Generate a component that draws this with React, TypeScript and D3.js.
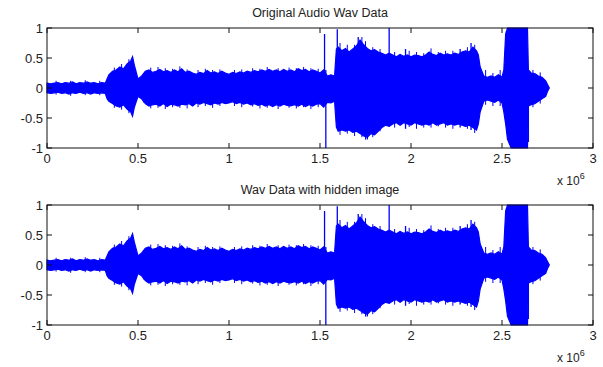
import * as d3 from "d3";

// envelope of the waveform, x in units of 1e6 samples
const envX = [
  0, 0.02, 0.04, 0.06, 0.08, 0.1, 0.12, 0.14, 0.16, 0.18, 0.2, 0.22, 0.24, 0.26, 0.28, 0.3, 0.32,
  0.33, 0.34, 0.36, 0.38, 0.4, 0.42, 0.44, 0.46, 0.47, 0.48, 0.5, 0.52, 0.54, 0.56, 0.58, 0.6,
  0.62, 0.64, 0.66, 0.68, 0.7, 0.72, 0.74, 0.76, 0.78, 0.8, 0.82, 0.84, 0.86, 0.88, 0.9, 0.92,
  0.94, 0.96, 0.98, 1.0, 1.02, 1.04, 1.06, 1.08, 1.1, 1.12, 1.14, 1.16, 1.18, 1.2, 1.22, 1.24,
  1.26, 1.28, 1.3, 1.32, 1.34, 1.36, 1.38, 1.4, 1.42, 1.44, 1.46, 1.48, 1.5, 1.52, 1.54, 1.56,
  1.58, 1.59, 1.6, 1.62, 1.64, 1.66, 1.68, 1.7, 1.72, 1.74, 1.76, 1.78, 1.8, 1.82, 1.84, 1.86,
  1.88, 1.9, 1.92, 1.94, 1.96, 1.98, 2.0, 2.02, 2.04, 2.06, 2.08, 2.1, 2.12, 2.14, 2.16, 2.18,
  2.2, 2.22, 2.24, 2.26, 2.28, 2.3, 2.32, 2.34, 2.36, 2.37, 2.38, 2.4, 2.42, 2.44, 2.46, 2.48,
  2.5, 2.51, 2.52, 2.53, 2.55, 2.6, 2.64, 2.645, 2.66, 2.68, 2.7, 2.72, 2.74, 2.75, 2.76,
];
const envHi = [
  0.08, 0.07, 0.08, 0.09, 0.07, 0.09, 0.08, 0.1, 0.07, 0.09, 0.08, 0.1, 0.08, 0.09, 0.07, 0.09, 0.08,
  0.15, 0.22, 0.28, 0.3, 0.35, 0.32, 0.4, 0.45, 0.52, 0.38, 0.15, 0.2, 0.28, 0.3, 0.26, 0.28,
  0.31, 0.27, 0.29, 0.26, 0.3, 0.27, 0.32, 0.26, 0.28, 0.25, 0.23, 0.26, 0.24, 0.29, 0.25, 0.27,
  0.24, 0.28, 0.25, 0.23, 0.26, 0.24, 0.27, 0.25, 0.28, 0.26, 0.29, 0.27, 0.3, 0.28, 0.31, 0.28,
  0.3, 0.27, 0.31, 0.28, 0.3, 0.27, 0.32, 0.29, 0.31, 0.27, 0.3, 0.28, 0.25, 0.3, 0.2, 0.22,
  0.2, 0.65, 0.68, 0.62, 0.66, 0.6, 0.65, 0.7, 0.8, 0.72, 0.66, 0.62, 0.64, 0.6, 0.58, 0.55,
  0.58, 0.55, 0.52, 0.56, 0.53, 0.55, 0.52, 0.55, 0.54, 0.52, 0.55, 0.6, 0.56, 0.54, 0.58, 0.55,
  0.57, 0.55, 0.58, 0.56, 0.6, 0.62, 0.6, 0.68, 0.62, 0.55, 0.35, 0.2, 0.18, 0.2, 0.18, 0.22,
  0.18, 0.3, 0.9, 1.0, 1.0, 1.0, 1.0, 0.3, 0.25, 0.24, 0.2, 0.18, 0.12, 0.06, 0,
];
const envLo = [
  -0.08, -0.09, -0.08, -0.07, -0.09, -0.08, -0.1, -0.08, -0.09, -0.07, -0.09, -0.08, -0.1, -0.08, -0.09, -0.08, -0.09,
  -0.18, -0.22, -0.26, -0.3, -0.32, -0.28, -0.35, -0.4, -0.47, -0.32, -0.14, -0.18, -0.26, -0.3, -0.28, -0.27,
  -0.3, -0.26, -0.31, -0.27, -0.28, -0.3, -0.27, -0.28, -0.26, -0.3, -0.25, -0.27, -0.24, -0.26, -0.28, -0.25,
  -0.27, -0.24, -0.26, -0.25, -0.23, -0.26, -0.24, -0.27, -0.25, -0.28, -0.26, -0.29, -0.27, -0.3, -0.28, -0.31,
  -0.28, -0.3, -0.27, -0.29, -0.3, -0.28, -0.3, -0.27, -0.31, -0.28, -0.3, -0.27, -0.26, -0.32, -0.24, -0.25,
  -0.22, -0.65, -0.72, -0.7, -0.72, -0.7, -0.74, -0.72, -0.76, -0.8, -0.82, -0.76, -0.78, -0.72, -0.66, -0.62,
  -0.64, -0.6, -0.58, -0.62, -0.58, -0.6, -0.62, -0.58, -0.6, -0.62, -0.6, -0.62, -0.58, -0.62, -0.6, -0.58,
  -0.62, -0.6, -0.62, -0.6, -0.62, -0.64, -0.62, -0.66, -0.7, -0.6, -0.4, -0.22, -0.2, -0.22, -0.24, -0.2,
  -0.25, -0.4, -0.6, -0.85, -1.0, -1.0, -1.0, -0.3, -0.28, -0.26, -0.22, -0.18, -0.14, -0.06, 0,
];

// short peaks sticking out of the envelope
const grassX = [
  0.05, 0.13, 0.21, 0.29, 0.37, 0.41, 0.45, 0.53, 0.57, 0.61, 0.65, 0.69, 0.73, 0.77, 0.83, 0.87,
  0.91, 0.95, 1.03, 1.07, 1.13, 1.17, 1.21, 1.27, 1.33, 1.37, 1.41, 1.45, 1.49, 1.61, 1.65, 1.69,
  1.73, 1.75, 1.79, 1.83, 1.91, 1.99, 2.03, 2.07, 2.11, 2.15, 2.19, 2.23, 2.31, 2.35, 2.41, 2.45,
  2.49, 2.67, 2.71,
];
const grassHi = [
  0.12, 0.12, 0.13, 0.12, 0.34, 0.4, 0.48, 0.25, 0.34, 0.35, 0.33, 0.32, 0.36, 0.31, 0.3, 0.32,
  0.3, 0.31, 0.3, 0.31, 0.33, 0.32, 0.35, 0.33, 0.34, 0.33, 0.35, 0.33, 0.32, 0.75, 0.72, 0.72,
  0.85, 0.78, 0.68, 0.65, 0.6, 0.62, 0.6, 0.58, 0.66, 0.6, 0.62, 0.62, 0.68, 0.72, 0.3, 0.25,
  0.3, 0.3, 0.26,
];
const grassLo = [
  -0.11, -0.13, -0.12, -0.12, -0.33, -0.36, -0.42, -0.24, -0.34, -0.33, -0.35, -0.32, -0.33, -0.34, -0.32, -0.3,
  -0.33, -0.3, -0.3, -0.32, -0.31, -0.34, -0.33, -0.35, -0.33, -0.34, -0.32, -0.35, -0.32, -0.78, -0.76, -0.8,
  -0.82, -0.86, -0.82, -0.72, -0.66, -0.65, -0.68, -0.66, -0.66, -0.64, -0.66, -0.68, -0.68, -0.75, -0.28, -0.3,
  -0.3, -0.32, -0.26,
];

// thin isolated spikes: position, top, bottom
const spikeX = [1.525, 1.532, 1.595, 1.71, 1.76, 1.88, 1.97, 2.27, 2.33, 2.525, 2.645];
const spikeTop = [0.9, 0.3, 0.98, 0.85, 0.5, 1.0, 0.65, 0.65, 0.75, 0.95, 0.2];
const spikeBottom = [-0.3, -1.0, -0.6, -0.7, -0.86, -0.2, -0.68, -0.66, -0.7, -0.5, -0.9];

const xTicks = [0, 0.5, 1, 1.5, 2, 2.5, 3];
const yTicks = [-1, -0.5, 0, 0.5, 1];
const titles = ["Original Audio Wav Data", "Wav Data with hidden image"];

const left = 47;
const right = 593;
const plotH = 120;
const panelTops = [28, 205];
const font = "'Liberation Sans', Arial, sans-serif";

function Panel({ top, title }: { top: number; title: string }) {
  const x = d3.scaleLinear().domain([0, 3e6]).range([left, right]);
  const y = d3.scaleLinear().domain([-1, 1]).range([top + plotH, top]);

  const env = envX.map((v, i) => ({ x: v * 1e6, hi: envHi[i], lo: envLo[i] }));
  const area = d3
    .area<{ x: number; hi: number; lo: number }>()
    .x((d) => x(d.x))
    .y0((d) => y(d.lo))
    .y1((d) => y(d.hi));

  const tl = 5;
  return (
    <g>
      <text x={(left + right) / 2} y={top - 11} textAnchor="middle" fontSize={12.5} fill="#222">
        {title}
      </text>
      <path d={area(env) ?? ""} fill="#0000ff" stroke="#0000ff" strokeWidth={1.2} />
      {grassX.map((g, i) => (
        <line
          key={"g" + i}
          x1={x(g * 1e6)}
          x2={x(g * 1e6)}
          y1={y(grassHi[i])}
          y2={y(grassLo[i])}
          stroke="#0000ff"
          strokeWidth={1}
        />
      ))}
      {spikeX.map((s, i) => (
        <line
          key={i}
          x1={x(s * 1e6)}
          x2={x(s * 1e6)}
          y1={y(spikeTop[i])}
          y2={y(spikeBottom[i])}
          stroke="#0000ff"
          strokeWidth={1.3}
        />
      ))}
      <rect x={left} y={top} width={right - left} height={plotH} fill="none" stroke="#111" strokeWidth={1} />
      {xTicks.map((t) => (
        <g key={t}>
          <line x1={x(t * 1e6)} x2={x(t * 1e6)} y1={top + plotH} y2={top + plotH - tl} stroke="#111" />
          <line x1={x(t * 1e6)} x2={x(t * 1e6)} y1={top} y2={top + tl} stroke="#111" />
          <text x={x(t * 1e6)} y={top + plotH + 15} textAnchor="middle" fontSize={13} fill="#222">
            {t}
          </text>
        </g>
      ))}
      {yTicks.map((t) => (
        <g key={t}>
          <line x1={left} x2={left + tl} y1={y(t)} y2={y(t)} stroke="#111" />
          <line x1={right} x2={right - tl} y1={y(t)} y2={y(t)} stroke="#111" />
          <text x={left - 4} y={y(t) + 5} textAnchor="end" fontSize={13} fill="#222">
            {t}
          </text>
        </g>
      ))}
      <text x={557} y={top + plotH + 37} fontSize={12} fill="#222">
        x 10
        <tspan dy={-6} fontSize={9}>
          6
        </tspan>
      </text>
    </g>
  );
}

export default function App() {
  return (
    <svg
      width={603}
      height={367}
      style={{ position: "absolute", left: 0, top: 0, background: "#fff" }}
      fontFamily={font}
    >
      {panelTops.map((t, i) => (
        <Panel key={i} top={t} title={titles[i]} />
      ))}
    </svg>
  );
}
